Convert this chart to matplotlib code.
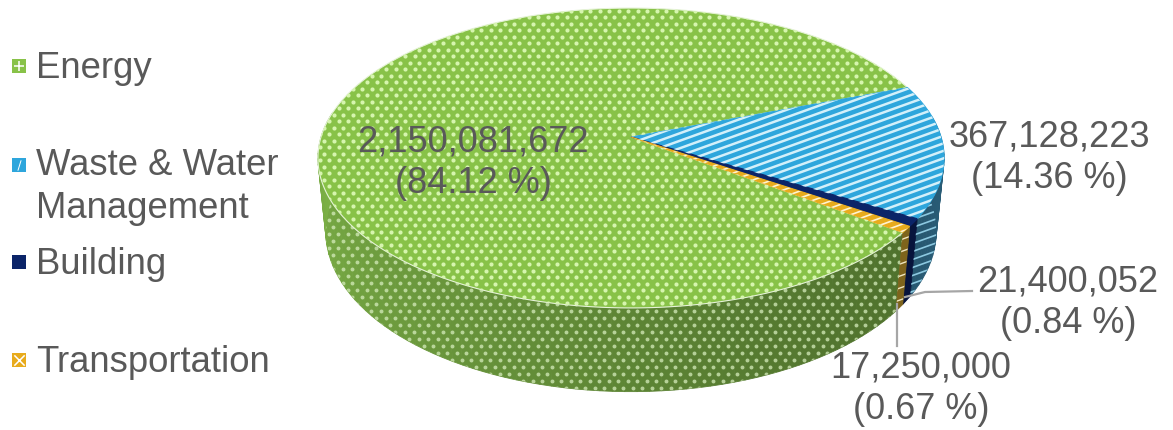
import numpy as np
import matplotlib
matplotlib.use('Agg')
from matplotlib import pyplot as plt
from matplotlib.patches import Polygon
from matplotlib.collections import LineCollection
from matplotlib.colors import to_rgb

plt.rcParams['font.family'] = ['Liberation Sans', 'DejaVu Sans']

categories = ['Energy', 'Waste & Water\nManagement', 'Building', 'Transportation']
values = [2150081672, 367128223, 21400052, 17250000]
top_colors = ['#88c248', '#2ea6dc', '#0b2468', '#e8ab1c']
side_colors = ['#7fb548', '#3f8db5', '#0b2060', '#c9a02c']
legend_marks = ['+', '$/$', None, 'x']
text_color = '#595959'

# pie geometry in pixels, the original has some perspective
cx, cy = 631, 137
A, B, p = 310, 147, 0.14
depth = 72
start_angle = -36.5


def project(t, z=0.0):
    t = np.radians(t)
    u, v = np.cos(t), np.sin(t)
    w = 1 + p * v
    x = cx + A * u / w * (1 - 0.025 * z)
    y = cy - B * v / w + depth * z / w
    return np.column_stack([x, y])


def shade(color, t):
    # lighter on the left of the side wall, darker towards the right
    f = np.interp(t, [-190, -130, -70, -30, 10], [1.0, 0.85, 0.68, 0.62, 0.7])
    return tuple(c * f for c in to_rgb(color))


def add_dots(clip, box, step, size, color, alpha=1.0):
    x0, x1, y0, y1 = box
    rows = np.arange(y0, y1, step[1])
    xs, ys = [], []
    for i, y in enumerate(rows):
        row = np.arange(x0 + (i % 2) * step[0] / 2, x1, step[0])
        xs.extend(row)
        ys.extend([y] * len(row))
    dots = ax.scatter(xs, ys, s=size, c=color, alpha=alpha, linewidths=0, zorder=clip.get_zorder() + 0.1)
    dots.set_clip_path(clip)


def add_stripes(clip, color, pitch, lw):
    x = np.array([300, 1000])
    segs = [np.column_stack([x, y0 - 0.36 * (x - 300)]) for y0 in np.arange(0, 800, pitch)]
    lines = LineCollection(segs, colors=color, linewidths=lw, zorder=clip.get_zorder() + 0.1)
    ax.add_collection(lines)
    lines.set_clip_path(clip)


fig = plt.figure(figsize=(11.73, 4.30), dpi=100)
ax = fig.add_axes([0, 0, 1, 1])
ax.set_xlim(0, 1173)
ax.set_ylim(430, 0)
ax.axis('off')

fractions = np.array(values) / sum(values)
sweeps = fractions * 360
ends = start_angle - np.cumsum(sweeps)
starts = ends + sweeps

# side wall first, only the angles that face the viewer
for i in range(len(values)):
    t0 = starts[i]
    t1 = ends[i]
    if i > 0:
        t0, t1 = t0 + 360, t1 + 360
    t0 = min(t0, 8)
    t1 = max(t1, -190) if i == 0 else max(t1, -30 - 360)
    if t0 <= t1:
        continue
    n = max(int((t0 - t1) / 2), 1)
    edges = np.linspace(t0, t1, n + 1)
    top = project(edges)
    bot = project(edges, 1)
    for k in range(n):
        strip = Polygon([top[k], top[k + 1], bot[k + 1], bot[k]],
                        facecolor=shade(side_colors[i], edges[k]),
                        edgecolor=shade(side_colors[i], edges[k]), lw=0.6, zorder=2)
        ax.add_patch(strip)
    wall = Polygon(np.vstack([top, bot[::-1]]), facecolor='none', edgecolor='none', zorder=2)
    ax.add_patch(wall)
    if i == 0:
        add_dots(wall, (300, 930, 150, 410), (9.5, 7), 8, '#d5ecbb', 0.75)
    elif i == 1:
        add_stripes(wall, '#8cc8e0', 8, 1.2)
    elif i == 3:
        add_stripes(wall, '#f0e6c0', 12, 1.0)

# top face
for i in range(len(values)):
    arc = np.linspace(starts[i], ends[i], max(int(sweeps[i]), 2) + 1)
    wedge = Polygon(np.vstack([[cx, cy], project(arc)]), facecolor=top_colors[i],
                    edgecolor='#e6f3d8' if i == 0 else top_colors[i], lw=0.8, zorder=3)
    ax.add_patch(wedge)
    if i == 0:
        add_dots(wedge, (310, 950, 4, 315), (9.5, 6.5), 9, '#d6f5ae')
    elif i == 1:
        add_stripes(wedge, '#d3f0fa', 7.5, 1.8)
    elif i == 3:
        add_stripes(wedge, '#fff4d0', 7, 1.2)

# data labels
labels = ['{:,}\n({:.2f} %)'.format(v, f * 100) for v, f in zip(values, fractions)]
label_pos = [(473, 163), (1049, 158), (1068, 303), (921, 389)]
for s, (x, y) in zip(labels, label_pos):
    ax.text(x, y, s, ha='center', va='center', fontsize=26, color=text_color,
            linespacing=1.25, zorder=5)

# leader lines
ax.plot([905, 925, 972], [297, 292, 291], color='#a6a6a6', lw=1.6, zorder=4)
ax.plot([897, 897], [304, 346], color='#a6a6a6', lw=1.6, zorder=4)

# legend
legend_y = [68, 187, 264, 362]
marker_y = [66, 165, 262, 360]
for name, color, mark, y, my in zip(categories, top_colors, legend_marks, legend_y, marker_y):
    ax.text(36, y, name, ha='left', va='center', fontsize=26.3, color=text_color, linespacing=1.3)
    ax.scatter([19], [my], marker='s', s=90, c=color, linewidths=0)
    if mark is not None:
        ax.scatter([19], [my], marker=mark, s=55, c='white', linewidths=1.1 if mark != '$/$' else 0)

fig.savefig('out.png', dpi=100)
